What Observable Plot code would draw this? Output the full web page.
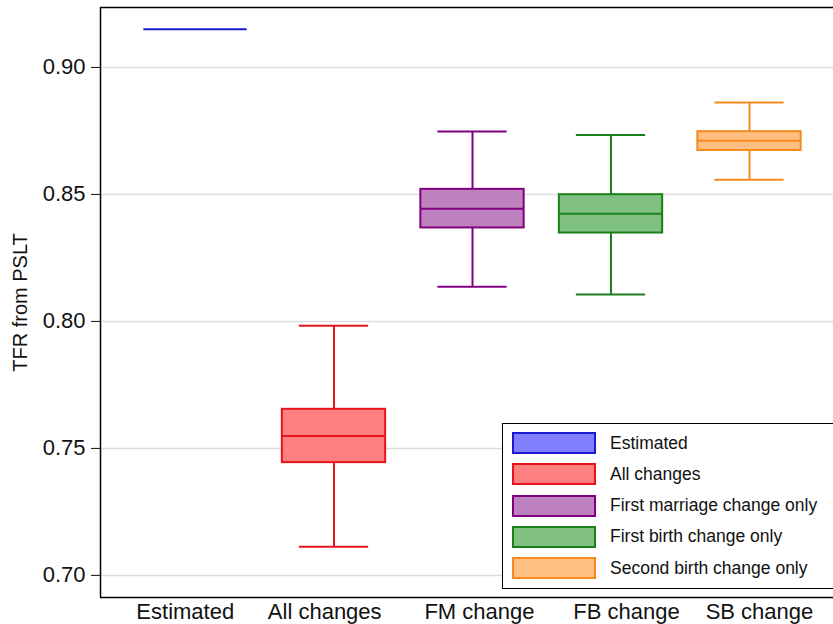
<!DOCTYPE html>
<html>
<head>
<meta charset="utf-8">
<script src="https://cdn.jsdelivr.net/npm/d3@7"></script>
<script src="https://cdn.jsdelivr.net/npm/@observablehq/plot@0.6"></script>
<style>
  html, body { margin: 0; padding: 0; background: #fff; overflow: hidden; }
  #wrap { position: relative; width: 833px; height: 624px; overflow: hidden; font-family: "Liberation Sans", Arial, sans-serif; }
  #wrap svg { max-width: none !important; display: block; }
  #wrap svg g[aria-label="y-axis label"] text { font-size: 20px; }
  #legend { position: absolute; left: 502px; top: 423px; width: 360px; height: 166px; border: 1.5px solid #000; background: #fff; box-sizing: border-box; }
  .row { position: absolute; left: 9px; height: 22px; display: flex; align-items: center; }
  .sw { width: 80px; height: 18px; border: 2px solid; }
  .lab { margin-left: 14px; font-size: 17.5px; color: #111; white-space: nowrap; }
</style>
</head>
<body>
<div id="wrap"></div>
<script>
const categories = ["Estimated", "All changes", "FM change", "FB change", "SB change"];
const seriesNames = ["Estimated", "All changes", "First marriage change only", "First birth change only", "Second birth change only"];
const lowerWhisker = [null, 0.7113, 0.8137, 0.8106, 0.8558];
const q1 = [null, 0.7444, 0.8368, 0.8348, 0.8673];
const median = [0.915, 0.7549, 0.8444, 0.8424, 0.8711];
const q3 = [null, 0.7654, 0.8520, 0.8499, 0.8747];
const upperWhisker = [null, 0.7983, 0.8748, 0.8734, 0.8862];
const strokeColors = ["#1a1ad0", "#e8141c", "#800080", "#1a801a", "#f58a1e"];
const fillColors = ["#8080ff", "#ff8080", "#bf80bf", "#80c080", "#ffbf80"];
const yTicks = [0.70, 0.75, 0.80, 0.85, 0.90];
// x-axis category label tick values (the labels are not centred under the boxes in the original)
const xLabelTicks = [0.926, 1.933, 3.05, 4.112, 5.072];
const xDomain = [0.3141, 5.657];
const yDomain = [0.6913, 0.9236];

const data = categories.map((c, i) => ({
  cat: c, pos: i + 1, lo: lowerWhisker[i], q1: q1[i], med: median[i], q3: q3[i], hi: upperWhisker[i],
  stroke: strokeColors[i], fill: fillColors[i]
}));
const boxes = data.filter(d => d.q1 != null);
const boxHalf = 0.373;
const capHalf = 0.25;

const chart = Plot.plot({
  width: 840,
  height: 624,
  marginLeft: 100,
  marginRight: 0,
  marginTop: 7,
  marginBottom: 27,
  style: { fontFamily: "Liberation Sans, Arial, sans-serif", color: "#111", background: "#fff", maxWidth: "none" },
  x: { type: "linear", domain: xDomain },
  y: { domain: yDomain },
  marks: [
    Plot.ruleY(yTicks, { stroke: "#dddddd", strokeWidth: 1.5 }),
    Plot.ruleX(boxes, { x: "pos", y1: "lo", y2: "hi", stroke: "stroke", strokeWidth: 2 }),
    Plot.ruleY(boxes, { y: "lo", x1: d => d.pos - capHalf, x2: d => d.pos + capHalf, stroke: "stroke", strokeWidth: 2 }),
    Plot.ruleY(boxes, { y: "hi", x1: d => d.pos - capHalf, x2: d => d.pos + capHalf, stroke: "stroke", strokeWidth: 2 }),
    Plot.rect(boxes, { x1: d => d.pos - boxHalf, x2: d => d.pos + boxHalf, y1: "q1", y2: "q3", fill: "fill", stroke: "stroke", strokeWidth: 2 }),
    Plot.ruleY(data, { y: "med", x1: d => d.pos - boxHalf, x2: d => d.pos + boxHalf, stroke: "stroke", strokeWidth: 2 }),
    Plot.axisY({ ticks: yTicks, tickFormat: d3.format(".2f"), tickSize: 9, tickPadding: 6, fontSize: 22,
      label: "TFR from PSLT", labelAnchor: "center", labelArrow: "none", labelOffset: 88 }),
    Plot.axisX({ ticks: xLabelTicks, tickFormat: (d, i) => categories[i], tickSize: 0, tickPadding: 6, fontSize: 22, label: null }),
    Plot.ruleY(yDomain, { stroke: "#000", strokeWidth: 1.5 }),
    Plot.ruleX([xDomain[0]], { stroke: "#000", strokeWidth: 1.5 })
  ]
});
const wrap = document.getElementById("wrap");
wrap.appendChild(chart);

const legend = document.createElement("div");
legend.id = "legend";
seriesNames.forEach((name, i) => {
  const row = document.createElement("div");
  row.className = "row";
  row.style.top = (8 + i * 31.3) + "px";
  const sw = document.createElement("div");
  sw.className = "sw";
  sw.style.background = fillColors[i];
  sw.style.borderColor = strokeColors[i];
  const lab = document.createElement("span");
  lab.className = "lab";
  lab.textContent = name;
  row.appendChild(sw);
  row.appendChild(lab);
  legend.appendChild(row);
});
wrap.appendChild(legend);
</script>
</body>
</html>
